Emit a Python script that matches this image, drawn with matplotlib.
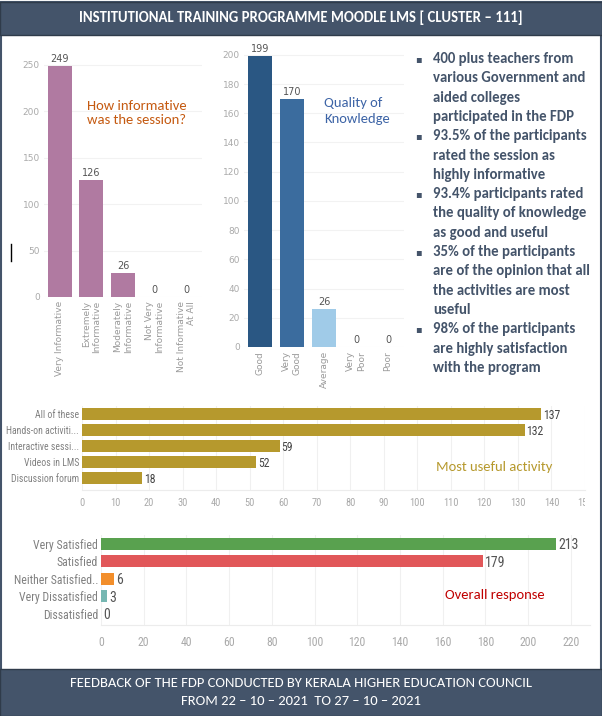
import matplotlib
matplotlib.use("Agg")
import matplotlib.pyplot as plt
from matplotlib.patches import Rectangle
from matplotlib.lines import Line2D
from matplotlib import font_manager as fm
from matplotlib.transforms import Bbox, TransformedBbox

# ---- données ----
info_cats = ["Very Informative", "Extremely\nInformative", "Moderately\nInformative",
             "Not Very\nInformative", "Not Informative\nAt All"]
info_vals = [249, 126, 26, 0, 0]

quality_cats = ["Good", "Very\nGood", "Average", "Very\nPoor", "Poor"]
quality_vals = [199, 170, 26, 0, 0]
quality_colors = ["#2a5783", "#3b6c9e", "#a0cbe8", "#a0cbe8", "#a0cbe8"]

activity_cats = ["All of these", "Hands-on activiti...", "Interactive sessi...",
                 "Videos in LMS", "Discussion forum"]
activity_vals = [137, 132, 59, 52, 18]

response_cats = ["Very Satisfied", "Satisfied", "Neither Satisfied..",
                 "Very Dissatisfied", "Dissatisfied"]
response_vals = [213, 179, 6, 3, 0]
response_colors = ["#59a14f", "#e15759", "#f28e2b", "#76b7b2", "#bab0ac"]

bullets = [
    ["400 plus teachers from", "various Government and", "aided colleges",
     "participated in the FDP"],
    ["93.5% of the participants", "rated the session as", "highly informative"],
    ["93.4% participants rated", "the quality of knowledge", "as good and useful"],
    ["35% of the participants", "are of the opinion that all", "the activities are most",
     "useful"],
    ["98% of the participants", "are highly satisfaction", "with the program"],
]

header = "INSTITUTIONAL TRAINING PROGRAMME MOODLE LMS [ CLUSTER \u2013 111]"
footer1 = "FEEDBACK OF THE FDP CONDUCTED BY KERALA HIGHER EDUCATION COUNCIL"
footer2 = "FROM 22 \u2013 10 \u2013 2021  TO 27 \u2013 10 \u2013 2021"

# polices disponibles
available = {f.name for f in fm.fontManager.ttflist}


def pick(cands, default):
    for c in cands:
        if c in available:
            return c
    return default


NARROW = pick(["Liberation Sans Narrow", "Roboto Condensed", "Open Sans Condensed",
               "Archivo Narrow", "PT Sans Narrow", "Fira Sans Condensed",
               "IBM Plex Sans Condensed", "Encode Sans Condensed", "Asap Condensed",
               "Barlow Condensed", "Pragati Narrow"], "DejaVu Sans")
CAL = pick(["Carlito", "Lato"], "DejaVu Sans")
SANS = [CAL, "DejaVu Sans"]
SLATE = "#44546a"

W, H = 602, 716
fig = plt.figure(figsize=(W / 100, H / 100), dpi=100)


def box(x0, y0, x1, y1):
    return [x0 / W, 1 - y1 / H, (x1 - x0) / W, (y1 - y0) / H]


def fx(x):
    return x / W


def fy(y):
    return 1 - y / H


# cadre, bandeau haut et bas
fig.add_artist(Rectangle((fx(1), fy(715)), fx(600), 713 / H, transform=fig.transFigure,
                         facecolor="white", edgecolor=SLATE, lw=1.5, zorder=0))
fig.add_artist(Rectangle((0, fy(35)), 1, 33 / H, transform=fig.transFigure,
                         facecolor=SLATE, edgecolor="#2f3b4a", lw=1, zorder=1))
fig.add_artist(Rectangle((0, 0), 1, 47 / H, transform=fig.transFigure,
                         facecolor=SLATE, edgecolor="#2f3b4a", lw=1, zorder=1))
fig.text(0.5, fy(18), header, ha="center", va="center", color="white",
         fontsize=10.6, fontweight="bold", family=SANS)
fig.text(0.5, fy(683), footer1, ha="center", va="center", color="white",
         fontsize=10.5, family=SANS)
fig.text(0.5, fy(701), footer2, ha="center", va="center", color="white",
         fontsize=10.5, family=SANS)
fig.add_artist(Line2D([fx(10.5), fx(10.5)], [fy(244), fy(261)], color="black", lw=1))


def style_vertical(ax, ticks, ymax):
    ax.set_xlim(-0.5, 4.5)
    ax.set_ylim(0, ymax)
    ax.set_yticks(ticks)
    for s in ax.spines.values():
        s.set_visible(False)
    ax.tick_params(length=0, labelsize=6.5, labelcolor="#aaaaaa", pad=3)
    ax.yaxis.grid(True, color="#f2f2f2", lw=0.8)
    ax.set_axisbelow(True)


# ---- graphique 1 ----
ax1 = fig.add_axes(box(44, 51, 202, 297))
ax1.bar(range(5), info_vals, width=0.76, color="#b07aa1")
style_vertical(ax1, range(0, 251, 50), 265)
ax1.set_xticks(range(5), info_cats, rotation=90, va="top", ha="center")
for lab in ax1.get_xticklabels():
    lab.set_multialignment("right")
    lab.set_fontsize(6.5)
    lab.set_color("#9a9a9a")
for i, v in enumerate(info_vals):
    ax1.annotate(str(v), (i, v), xytext=(0, 1.5), textcoords="offset points",
                 ha="center", va="bottom", fontsize=7, color="#555555")
fig.text(fx(87), fy(113), "How informative\nwas the session?", ha="left", va="center",
         color="#c55a11", fontsize=10.5, family=SANS, linespacing=1.25)

# ---- graphique 2 ----
ax2 = fig.add_axes(box(244, 49, 404, 347))
ax2.bar(range(5), quality_vals, width=0.76, color=quality_colors)
style_vertical(ax2, range(0, 201, 20), 204)
ax2.set_xticks(range(5), quality_cats, rotation=90, va="top", ha="center")
for lab in ax2.get_xticklabels():
    lab.set_multialignment("right")
    lab.set_fontsize(6.5)
    lab.set_color("#9a9a9a")
for i, v in enumerate(quality_vals):
    ax2.annotate(str(v), (i, v), xytext=(0, 1.5), textcoords="offset points",
                 ha="center", va="bottom", fontsize=7, color="#555555")
fig.text(fx(324), fy(111), "Quality of\nKnowledge", ha="left", va="center",
         color="#3d64a6", fontsize=10.5, family=SANS, linespacing=1.35)

# ---- puces ----
line_h = 19.3
row = 0
for item in bullets:
    fig.text(fx(418), fy(59 + row * line_h), "\u25aa", ha="center", va="center",
             color=SLATE, fontsize=7, family="DejaVu Sans")
    for line in item:
        fig.text(fx(433), fy(59 + row * line_h), line, ha="left", va="center",
                 color=SLATE, fontsize=10.6, fontweight="bold", family=SANS)
        row += 1


def style_horizontal(ax, ticks, xmax, ymax, tsize, lsize, xpad):
    ax.set_xlim(0, xmax)
    ax.set_ylim(ymax, -0.5)
    ax.set_xticks(ticks)
    for s in ax.spines.values():
        s.set_visible(False)
    ax.spines["bottom"].set_visible(True)
    ax.spines["bottom"].set_color("#ececec")
    ax.tick_params(length=0)
    ax.tick_params(axis="x", labelsize=tsize, labelcolor="#aaaaaa", pad=xpad)
    ax.tick_params(axis="y", labelsize=lsize, labelcolor="#808080", pad=2)
    for lab in ax.get_xticklabels() + ax.get_yticklabels():
        lab.set_family(NARROW)
    ax.xaxis.grid(True, color="#f0f0f0", lw=0.8)
    ax.set_axisbelow(True)


# ---- graphique 3 ----
ax3 = fig.add_axes(box(82, 406, 585, 490))
ax3.barh(range(5), activity_vals, height=0.75, color="#b6992d")
ax3.set_yticks(range(5), activity_cats)
style_horizontal(ax3, range(0, 151, 10), 149, 4.75, 7.5, 7, 6)
clip = TransformedBbox(Bbox([[0, 0], [fx(585), 1]]), fig.transFigure)
for lab in ax3.get_xticklabels():
    lab.set_clip_box(clip)
    lab.set_clip_on(True)
for i, v in enumerate(activity_vals):
    ax3.annotate(str(v), (v, i), xytext=(1, -1), textcoords="offset points",
                 ha="left", va="center", fontsize=8.5, color="#444444", family=NARROW)
fig.text(fx(436), fy(467), "Most useful activity", ha="left", va="center",
         color="#b6992d", fontsize=10.5, family=SANS)

# ---- graphique 4 ----
ax4 = fig.add_axes(box(101, 535, 590, 625))
ax4.barh(range(5), response_vals, height=0.69, color=response_colors)
ax4.set_yticks(range(5), response_cats)
style_horizontal(ax4, range(0, 221, 20), 229, 4.64, 8.5, 8.5, 8)
for i, v in enumerate(response_vals):
    ax4.annotate(str(v), (v, i), xytext=(1.5, -1), textcoords="offset points",
                 ha="left", va="center", fontsize=10, color="#555555", family=NARROW)
fig.text(fx(445), fy(595), "Overall response", ha="left", va="center",
         color="#c00000", fontsize=10.5, family=SANS)

fig.savefig("out.png", dpi=100)
